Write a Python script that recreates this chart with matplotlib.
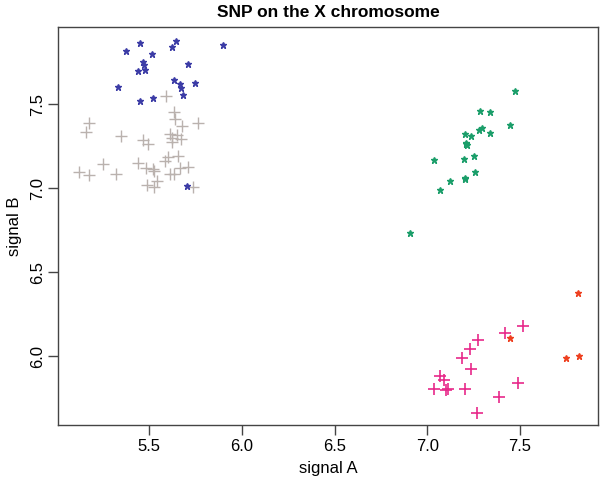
import matplotlib
matplotlib.use("Agg")
import matplotlib.pyplot as plt

plt.rcParams['font.family'] = ['Liberation Sans', 'DejaVu Sans']

blue_x = [5.453, 5.643, 5.624, 5.901, 5.373, 5.514, 5.469, 5.474, 5.476, 5.442,
          5.708, 5.635, 5.669, 5.750, 5.672, 5.330, 5.685, 5.449, 5.521, 5.703]
blue_y = [7.864, 7.876, 7.838, 7.853, 7.816, 7.798, 7.754, 7.731, 7.704, 7.697,
          7.740, 7.647, 7.621, 7.625, 7.595, 7.600, 7.555, 7.522, 7.538, 7.011]

gray_x = [5.593, 5.632, 5.642, 5.677, 5.766, 5.176, 5.161, 5.348, 5.466, 5.496,
          5.615, 5.649, 5.621, 5.672, 5.621, 5.654, 5.600, 5.586, 5.249, 5.439,
          5.481, 5.520, 5.526, 5.709, 5.669, 5.122, 5.174, 5.324, 5.615, 5.632,
          5.542, 5.487, 5.526, 5.735]
gray_y = [7.552, 7.452, 7.411, 7.372, 7.387, 7.387, 7.333, 7.311, 7.288, 7.263,
          7.321, 7.315, 7.299, 7.296, 7.274, 7.192, 7.186, 7.164, 7.144, 7.150,
          7.120, 7.113, 7.104, 7.125, 7.119, 7.099, 7.077, 7.082, 7.084, 7.084,
          7.044, 7.017, 7.005, 7.005]

green_x = [7.470, 7.286, 7.336, 7.443, 7.205, 7.237, 7.281, 7.293, 7.340, 7.207,
           7.212, 7.208, 7.038, 7.196, 7.251, 7.259, 7.201, 7.203, 7.120, 7.066, 6.906]
green_y = [7.577, 7.460, 7.451, 7.375, 7.325, 7.311, 7.349, 7.359, 7.327, 7.272,
           7.256, 7.262, 7.168, 7.176, 7.192, 7.095, 7.063, 7.057, 7.045, 6.987, 6.735]

pink_x = [7.516, 7.416, 7.275, 7.230, 7.189, 7.237, 7.068, 7.092, 7.038, 7.100,
          7.111, 7.205, 7.491, 7.386, 7.268]
pink_y = [6.177, 6.135, 6.095, 6.040, 5.986, 5.921, 5.883, 5.855, 5.806, 5.796,
          5.803, 5.806, 5.841, 5.754, 5.664]

red_x = [7.811, 7.444, 7.746, 7.820]
red_y = [6.374, 6.110, 5.986, 5.998]

x_ticks = [5.5, 6.0, 6.5, 7.0, 7.5]
y_ticks = [6.0, 6.5, 7.0, 7.5]

fig = plt.figure(figsize=(6.0, 4.83), dpi=100)
ax = fig.add_axes([58/600, 1-425/483, 540/600, (425-27)/483])

ax.plot(gray_x, gray_y, linestyle='none', marker='+', markersize=9,
        markeredgewidth=1.0, color='#bab2ae')
ax.plot(blue_x, blue_y, linestyle='none', marker='*', markersize=4.5,
        color='#3c3ca6')
ax.plot(green_x, green_y, linestyle='none', marker='*', markersize=4.5,
        color='#1b9e6a')
ax.plot(pink_x, pink_y, linestyle='none', marker='+', markersize=9,
        markeredgewidth=1.2, color='#e7298a')
ax.plot(red_x, red_y, linestyle='none', marker='*', markersize=4.5,
        color='#ee4020')

ax.set_xlim(5.009, 7.92)
ax.set_ylim(5.59, 7.96)
ax.set_xticks(x_ticks)
ax.set_xticklabels([f"{v:.1f}" for v in x_ticks])
ax.set_yticks(y_ticks)
ax.set_yticklabels([f"{v:.1f}" for v in y_ticks], rotation=90, va='center')

for s in ax.spines.values():
    s.set_color('#444444')
    s.set_linewidth(1.0)
ax.tick_params(direction='out', length=7, width=1.0, color='#444444',
               labelsize=12)
ax.tick_params(axis='x', pad=3)
ax.tick_params(axis='y', pad=2)

ax.set_xlabel('signal A', fontsize=12, labelpad=5)
ax.set_ylabel('signal B', fontsize=12, labelpad=6)
ax.set_title('SNP on the X chromosome', fontsize=12.5, fontweight='bold', pad=7)

fig.savefig('out.png', dpi=100)
